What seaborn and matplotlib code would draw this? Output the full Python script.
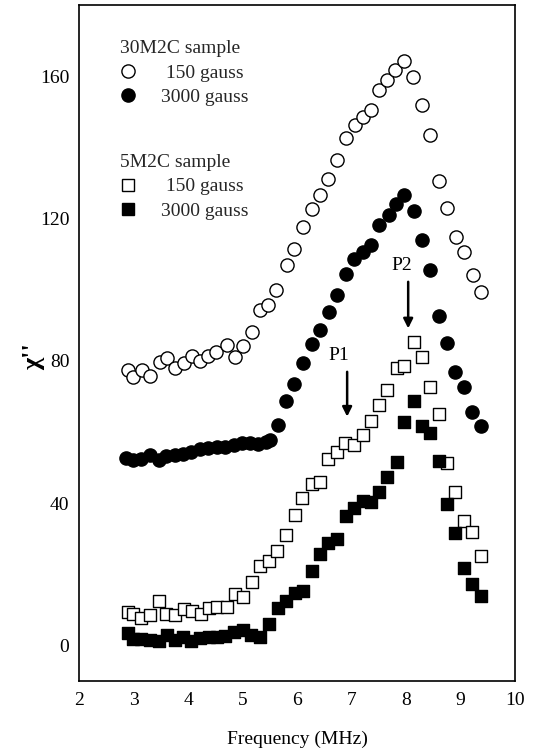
import matplotlib
matplotlib.use("Agg")
import matplotlib.pyplot as plt
import seaborn as sns
import pandas as pd
from matplotlib.lines import Line2D
from matplotlib.ticker import MultipleLocator

# 30M2C sample, 150 gauss (open circles)
freq_30_150 = [2.90, 2.99, 3.16, 3.30, 3.48, 3.61, 3.77, 3.92, 4.08, 4.22, 4.37, 4.52, 4.71, 4.86,
               5.01, 5.18, 5.32, 5.47, 5.62, 5.81, 5.95, 6.11, 6.27, 6.42, 6.57, 6.73, 6.90, 7.06,
               7.22, 7.36, 7.51, 7.65, 7.80, 7.97, 8.13, 8.29, 8.44, 8.60, 8.75, 8.92, 9.07, 9.23, 9.38]
chi_30_150 = [77.4, 75.5, 77.4, 75.7, 79.7, 80.7, 77.9, 79.3, 81.3, 79.9, 81.3, 82.5, 84.4, 81.1,
              84.1, 88.0, 94.2, 95.6, 99.8, 106.9, 111.5, 117.6, 122.8, 126.5, 131.2, 136.3, 142.6, 146.2,
              148.5, 150.6, 156.0, 158.8, 161.6, 164.2, 159.7, 151.8, 143.5, 130.4, 123.0, 114.8, 110.6, 104.1, 99.4]

# 30M2C sample, 3000 gauss (filled circles)
freq_30_3000 = [2.87, 2.99, 3.14, 3.30, 3.47, 3.60, 3.76, 3.91, 4.06, 4.22, 4.37, 4.53, 4.68, 4.84,
                4.99, 5.14, 5.29, 5.44, 5.51, 5.65, 5.80, 5.95, 6.11, 6.27, 6.42, 6.59, 6.74, 6.89,
                7.05, 7.21, 7.36, 7.51, 7.68, 7.82, 7.97, 8.14, 8.29, 8.44, 8.60, 8.75, 8.90, 9.06, 9.21, 9.37]
chi_30_3000 = [52.6, 52.1, 52.3, 53.5, 52.1, 53.1, 53.5, 53.8, 54.5, 55.1, 55.4, 55.9, 55.9, 56.3,
               57.0, 56.8, 56.6, 57.3, 57.7, 62.0, 68.8, 73.5, 79.4, 84.6, 88.6, 93.8, 98.4, 104.5,
               108.5, 110.6, 112.5, 118.1, 120.9, 124.2, 126.5, 122.2, 113.9, 105.6, 92.7, 84.9, 76.9, 72.5, 65.7, 61.7]

# 5M2C sample, 150 gauss (open squares)
freq_5_150 = [2.90, 2.99, 3.14, 3.30, 3.47, 3.60, 3.77, 3.92, 4.08, 4.23, 4.38, 4.53, 4.71, 4.86,
              5.01, 5.18, 5.33, 5.49, 5.64, 5.80, 5.96, 6.10, 6.27, 6.42, 6.57, 6.73, 6.88, 7.05,
              7.21, 7.35, 7.51, 7.66, 7.83, 7.97, 8.14, 8.29, 8.44, 8.60, 8.75, 8.90, 9.07, 9.22, 9.38]
chi_5_150 = [9.3, 8.9, 7.7, 8.6, 12.6, 8.9, 8.6, 10.2, 9.7, 8.9, 10.5, 10.8, 10.8, 14.5,
             13.6, 17.9, 22.4, 23.8, 26.5, 31.1, 36.7, 41.4, 45.3, 46.0, 52.3, 54.5, 56.8, 56.3,
             59.1, 63.1, 67.6, 71.8, 78.0, 78.6, 85.2, 81.0, 72.7, 65.0, 51.2, 43.1, 35.1, 31.9, 25.1]

# 5M2C sample, 3000 gauss (filled squares)
freq_5_3000 = [2.90, 2.99, 3.14, 3.30, 3.47, 3.61, 3.77, 3.91, 4.06, 4.22, 4.38, 4.53, 4.68, 4.84,
               5.00, 5.16, 5.32, 5.49, 5.65, 5.80, 5.96, 6.11, 6.27, 6.42, 6.57, 6.73, 6.89, 7.05,
               7.21, 7.36, 7.51, 7.66, 7.83, 7.97, 8.14, 8.29, 8.44, 8.60, 8.75, 8.90, 9.07, 9.22, 9.38]
chi_5_3000 = [3.4, 1.7, 1.8, 1.6, 1.2, 3.0, 1.6, 2.3, 1.2, 2.1, 2.5, 2.3, 2.7, 3.7,
              4.2, 3.0, 2.4, 6.0, 10.4, 12.4, 14.7, 15.2, 20.8, 25.7, 28.9, 30.0, 36.3, 38.6,
              40.7, 40.4, 43.2, 47.3, 51.6, 62.8, 68.6, 61.7, 59.8, 51.9, 39.8, 31.7, 21.7, 17.2, 14.0]

x_ticks = [2, 3, 4, 5, 6, 7, 8, 9, 10]
y_ticks = [0, 40, 80, 120, 160]
x_label = "Frequency (MHz)"
y_label = "\u03c7''"

sns.set_theme(style="white")
plt.rcParams["font.family"] = ["Liberation Serif", "DejaVu Serif"]

fig = plt.figure(figsize=(5.42, 7.49), dpi=100)
ax = fig.add_axes([79 / 542, 68 / 749, 436 / 542, 676 / 749])

df_o150 = pd.DataFrame({"f": freq_30_150, "chi": chi_30_150})
df_o3000 = pd.DataFrame({"f": freq_30_3000, "chi": chi_30_3000})
df_s150 = pd.DataFrame({"f": freq_5_150, "chi": chi_5_150})
df_s3000 = pd.DataFrame({"f": freq_5_3000, "chi": chi_5_3000})

circ_s = 90
sq_s = 80
sns.scatterplot(data=df_o150, x="f", y="chi", marker="o", s=circ_s, facecolor="white",
                edgecolor="black", linewidth=1.0, ax=ax, zorder=3)
sns.scatterplot(data=df_o3000, x="f", y="chi", marker="o", s=circ_s, color="black",
                edgecolor="black", linewidth=1.0, ax=ax, zorder=3)
sns.scatterplot(data=df_s150, x="f", y="chi", marker="s", s=sq_s, facecolor="white",
                edgecolor="black", linewidth=1.0, ax=ax, zorder=3)
sns.scatterplot(data=df_s3000, x="f", y="chi", marker="s", s=sq_s, color="black",
                edgecolor="black", linewidth=1.0, ax=ax, zorder=4)

ax.set_xlim(2, 10)
ax.set_ylim(-10, 180)
ax.set_xticks(x_ticks)
ax.set_yticks(y_ticks)
ax.xaxis.set_minor_locator(MultipleLocator(0.5))
ax.yaxis.set_minor_locator(MultipleLocator(20))
ax.tick_params(axis="both", which="major", direction="in", length=6.5, width=1.0,
               labelsize=14, color="black", labelcolor="black")
ax.tick_params(axis="both", which="minor", direction="in", length=3.6, width=1.0, color="black")
ax.tick_params(axis="x", which="major", pad=8)
ax.tick_params(axis="y", which="major", pad=7)
for sp in ax.spines.values():
    sp.set_linewidth(1.2)
    sp.set_color("black")
    sp.set_visible(True)

ax.set_xlabel(x_label, fontsize=14, labelpad=15.5, color="black")
ax.set_ylabel(y_label, fontsize=19, fontweight="bold", color="black")
ax.yaxis.set_label_coords(-0.078, 0.48)

# Arrows and annotations
ax.annotate("", xy=(6.92, 64.3), xytext=(6.92, 76.9),
            arrowprops=dict(arrowstyle="-|>", color="black", lw=1.8, mutation_scale=14,
                            shrinkA=0, shrinkB=0))
ax.text(6.77, 81.6, "P1", fontsize=14, ha="center", va="center", color="black")
ax.annotate("", xy=(8.04, 89.1), xytext=(8.04, 102.2),
            arrowprops=dict(arrowstyle="-|>", color="black", lw=1.8, mutation_scale=14,
                            shrinkA=0, shrinkB=0))
ax.text(7.92, 106.9, "P2", fontsize=14, ha="center", va="center", color="black")

# Legends
h_oc = Line2D([], [], ls="none", marker="o", markersize=9.5, mfc="white", mec="black", mew=1.0)
h_fc = Line2D([], [], ls="none", marker="o", markersize=9.5, mfc="black", mec="black", mew=1.0)
h_os = Line2D([], [], ls="none", marker="s", markersize=8.5, mfc="white", mec="black", mew=1.0)
h_fs = Line2D([], [], ls="none", marker="s", markersize=8.5, mfc="black", mec="black", mew=1.0)

leg_kw = dict(loc="upper left", frameon=False, fontsize=14, title_fontsize=14,
              borderpad=0, borderaxespad=0, handlelength=0.8, handletextpad=1.3,
              labelspacing=0.35, alignment="left")
leg1 = ax.legend(handles=[h_oc, h_fc], labels=[" 150 gauss", "3000 gauss"],
                 title="30M2C sample", bbox_to_anchor=(0.094, 0.948), **leg_kw)
ax.add_artist(leg1)
leg2 = ax.legend(handles=[h_os, h_fs], labels=[" 150 gauss", "3000 gauss"],
                 title="5M2C sample", bbox_to_anchor=(0.094, 0.7795), **leg_kw)

fig.savefig("out.png", dpi=100)
